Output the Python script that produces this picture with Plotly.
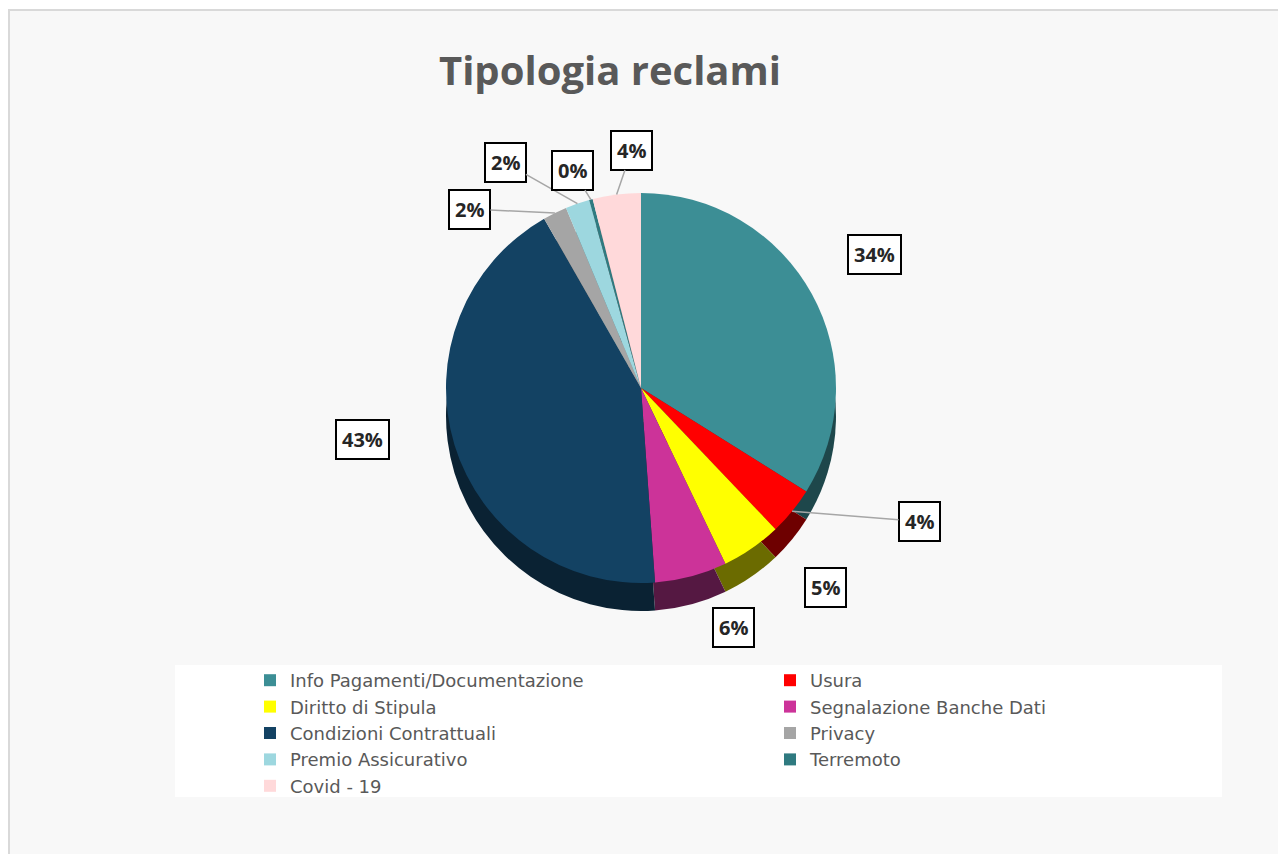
import math
import plotly.graph_objects as go

# ---- data ----
categories = ["Info Pagamenti/Documentazione", "Usura", "Diritto di Stipula",
              "Segnalazione Banche Dati", "Condizioni Contrattuali", "Privacy",
              "Premio Assicurativo", "Terremoto", "Covid - 19"]
values = [34, 4, 5, 6, 43, 2, 2, 0.3, 4]

colors = ["#3C8E95", "#FF0000", "#FFFF00", "#CC3399", "#134263",
          "#A5A5A5", "#9DD7DF", "#2F7A80", "#FFD9DA"]
side_colors = ["#1E474B", "#6E0000", "#6B6B00", "#551842", "#0A2233",
               "#5A5A5A", "#4F7C82", "#183D40", "#8A7475"]

# label offsets (pixels) from the slice edge
label_dx = [63, 127, 74, 42, -92, -85, -72, -18, 15]
label_dy = [-39, 10, 39, 51, -5, -4, -41, -29, -44]
show_leader = [False, True, False, False, False, True, True, True, True]

W, H = 1286, 854
OFF = 8  # page body margin
cx, cy, R = 641 - OFF, 388 - OFF, 195
depth = 28

def px(x):
    return x / W

def py(y):
    return 1 - y / H

fig = go.Figure()

# background frame
fig.add_shape(type="rect", xref="paper", yref="paper",
              x0=px(1), x1=px(1280 - OFF), y0=-0.01, y1=py(10 - OFF),
              fillcolor="#F8F8F8", line=dict(color="#D9D9D9", width=2), layer="below")
# legend background
fig.add_shape(type="rect", xref="paper", yref="paper",
              x0=px(175 - OFF), x1=px(1222 - OFF), y0=py(797 - OFF), y1=py(665 - OFF),
              fillcolor="white", line=dict(width=0), layer="below")

def dom(cyy):
    return dict(x=[px(cx - R), px(cx + R)], y=[py(cyy + R), py(cyy - R)])

# side (depth) of the pie
fig.add_trace(go.Pie(labels=categories, values=values, sort=False,
                     direction="clockwise", rotation=0,
                     marker=dict(colors=side_colors, line=dict(width=0)),
                     textinfo="none", hoverinfo="skip", showlegend=False,
                     domain=dom(cy + depth)))
# top of the pie
fig.add_trace(go.Pie(labels=categories, values=values, sort=False,
                     direction="clockwise", rotation=0,
                     marker=dict(colors=colors, line=dict(width=0)),
                     textinfo="none", showlegend=True,
                     domain=dom(cy)))

total = sum(values)
cum = 0
for i, v in enumerate(values):
    mid = (cum + v / 2) / total * 2 * math.pi
    cum += v
    ex = cx + R * math.sin(mid)
    ey = cy - R * math.cos(mid)
    fig.add_annotation(
        x=px(ex), y=py(ey), xref="paper", yref="paper",
        ax=label_dx[i], ay=label_dy[i],
        text=f"<b>{round(v / total * 100)}%</b>",
        showarrow=True, arrowhead=0, arrowwidth=1.5,
        arrowcolor="#A6A6A6" if show_leader[i] else "rgba(0,0,0,0)",
        font=dict(family="Open Sans", size=20, color="#262626"),
        bordercolor="black", borderwidth=2, borderpad=5, bgcolor="white")

fig.add_annotation(x=px(610 - OFF), y=py(70 - OFF), xref="paper", yref="paper",
                   xanchor="center", yanchor="middle",
                   text="<b>Tipologia reclami</b>", showarrow=False,
                   font=dict(family="Open Sans", size=40, color="#595959"))

fig.update_layout(
    width=W, height=H,
    margin=dict(l=0, r=0, t=0, b=0),
    paper_bgcolor="white",
    showlegend=True,
    legend=dict(orientation="h", x=px(250 - OFF), xanchor="left",
                y=py(662 - OFF), yanchor="top",
                entrywidth=475, entrywidthmode="pixels",
                bgcolor="rgba(0,0,0,0)",
                font=dict(family="DejaVu Sans", size=18, color="#595959"),
                traceorder="normal"),
)

fig.write_html("out.html")
